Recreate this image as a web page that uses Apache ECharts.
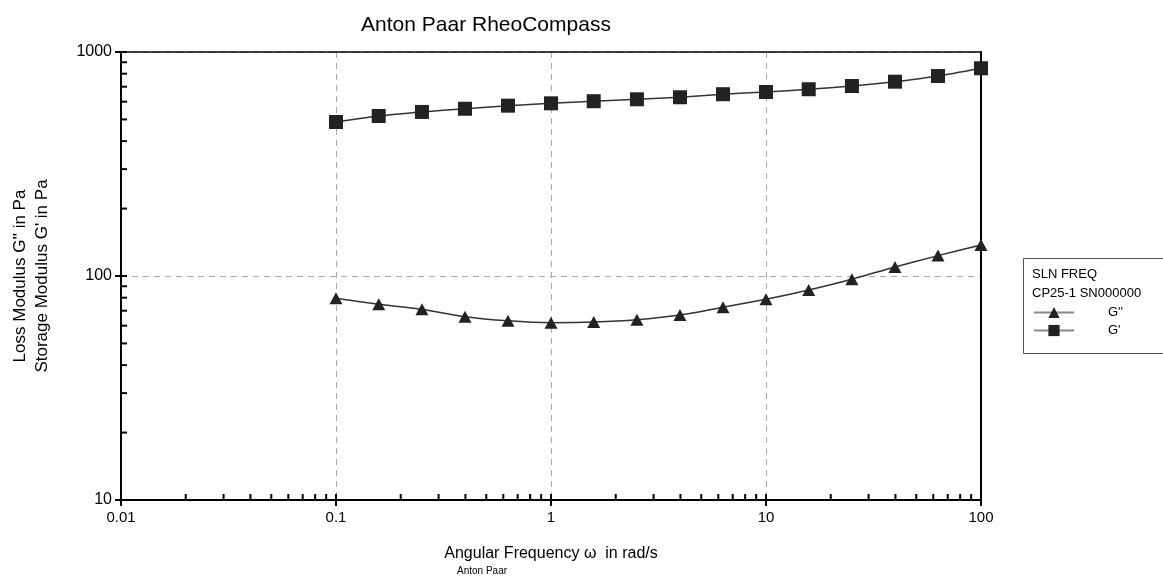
<!DOCTYPE html>
<html>
<head>
<meta charset="utf-8">
<script src="https://cdn.jsdelivr.net/npm/echarts@6/dist/echarts.min.js"></script>
<style>html,body{margin:0;padding:0;background:#fff}#c{width:1163px;height:578px}</style>
</head>
<body>
<div id="c"></div>
<script>
const freq = [0.1, 0.158, 0.251, 0.398, 0.631, 1, 1.58, 2.51, 3.98, 6.31, 10, 15.8, 25.1, 39.8, 63.1, 100];
const gPrime = [487, 518, 540, 558, 576, 590, 603, 615, 628, 648, 663, 682, 705, 737, 781, 846];
const gDouble = [79.5, 74.8, 71.0, 65.8, 63.1, 61.9, 62.3, 63.8, 67.0, 72.5, 78.7, 86.6, 96.7, 109.7, 123.3, 137.5];
const xTickLabels = ['0.01', '0.1', '1', '10', '100'];
const yTickLabels = ['10', '100', '1000'];
const xMinorTicks = [];
[0.01, 0.1, 1, 10].forEach(d => { for (let m = 1; m <= 10; m++) xMinorTicks.push(+(d * m).toPrecision(3)); });
const yMinorTicks = [];
[10, 100].forEach(d => { for (let m = 1; m <= 10; m++) yMinorTicks.push(+(d * m).toPrecision(3)); });

const FONT = '"Liberation Sans", Arial, sans-serif';
const chart = echarts.init(document.getElementById('c'));

function tickSeries(data, dir) {
  return {
    type: 'custom', silent: true, clip: false, z: 5,
    xAxisIndex: 0, yAxisIndex: 0,
    data: data,
    renderItem: function (params, api) {
      const p = api.coord([api.value(0), api.value(1)]);
      const shape = dir === 'x'
        ? { x1: p[0], y1: p[1], x2: p[0], y2: p[1] - 6 }
        : { x1: p[0], y1: p[1], x2: p[0] + 6, y2: p[1] };
      return { type: 'line', shape: shape, style: { stroke: '#000', lineWidth: 2 } };
    }
  };
}

const frameAxis = (pos, w) => ({
  type: 'log', logBase: 10, position: pos,
  axisLine: { show: true, lineStyle: { color: '#000', width: w } },
  axisTick: { show: false }, axisLabel: { show: false }, splitLine: { show: false }
});

chart.setOption({
  animation: false,
  backgroundColor: '#fff',
  title: {
    text: 'Anton Paar RheoCompass', left: 481, top: 10, textAlign: 'center',
    textStyle: { fontFamily: FONT, fontSize: 21, fontWeight: 'normal', color: '#000' }
  },
  grid: { left: 121, right: 182, top: 52, bottom: 78, outerBoundsMode: 'none', containLabel: false },
  legend: {
    orient: 'vertical', left: 1033, top: 306, padding: 0, itemWidth: 40, itemHeight: 14, itemGap: 5,
    data: ["G''", "G'"],
    lineStyle: { color: '#888', width: 2 },
    textStyle: { fontFamily: FONT, fontSize: 13, color: '#000', padding: [0, 0, 0, 29] }
  },
  xAxis: [{
    type: 'log', logBase: 10, min: 0.01, max: 100,
    name: 'Angular Frequency \u03c9  in rad/s', nameLocation: 'middle', nameGap: 46,
    nameTextStyle: { fontFamily: FONT, fontSize: 16, color: '#000' },
    axisLine: { lineStyle: { color: '#000', width: 2 } },
    axisTick: { show: true, inside: false, length: 6, lineStyle: { color: '#000', width: 2 } },
    axisLabel: { fontFamily: FONT, fontSize: 15, color: '#000', margin: 10,
      formatter: (v) => { const i = Math.round(Math.log10(v)) + 2; return xTickLabels[i] ?? ''; } },
    splitLine: { show: true, lineStyle: { color: '#aaa', type: [6, 5], width: 1 } }
  }, Object.assign(frameAxis('top', 1.5), { min: 0.01, max: 100 })],
  yAxis: [{
    type: 'log', logBase: 10, min: 10, max: 1000,
    name: "Loss Modulus G'' in Pa\nStorage Modulus G' in Pa", nameLocation: 'middle', nameGap: 68,
    nameRotate: 90,
    nameTextStyle: { fontFamily: FONT, fontSize: 17, color: '#000', lineHeight: 22 },
    axisLine: { lineStyle: { color: '#000', width: 2 } },
    axisTick: { show: true, inside: false, length: 6, lineStyle: { color: '#000', width: 2 } },
    axisLabel: { fontFamily: FONT, fontSize: 16, color: '#000', margin: 9,
      formatter: (v) => { const i = Math.round(Math.log10(v)) - 1; return yTickLabels[i] ?? ''; } },
    splitLine: { show: true, lineStyle: { color: '#aaa', type: [6, 5], width: 1 } }
  }, Object.assign(frameAxis('right', 2), { min: 10, max: 1000 })],
  graphic: [
    { type: 'rect', left: 1021, top: 256, shape: { width: 160, height: 95 },
      style: { fill: 'none', stroke: '#555', lineWidth: 1 }, z: 1 },
    { type: 'text', left: 1032, top: 268, style: { text: 'SLN FREQ', font: '13px ' + FONT, fill: '#000' } },
    { type: 'text', left: 1032, top: 287, style: { text: 'CP25-1 SN000000', font: '13px ' + FONT, fill: '#000' } },
    { type: 'text', left: 457, top: 566, style: { text: 'Anton Paar', font: '10px ' + FONT, fill: '#000' } }
  ],
  series: [
    { name: "G''", type: 'line', data: freq.map((f, i) => [f, gDouble[i]]),
      symbol: 'triangle', symbolSize: [13, 12], smooth: 0.2,
      itemStyle: { color: '#222' }, lineStyle: { color: '#333', width: 1.5 }, z: 3 },
    { name: "G'", type: 'line', data: freq.map((f, i) => [f, gPrime[i]]),
      symbol: 'rect', symbolSize: 14, smooth: 0.2,
      itemStyle: { color: '#222' }, lineStyle: { color: '#333', width: 1.5 }, z: 3 },
    tickSeries(xMinorTicks.map(v => [v, 10]), 'x'),
    tickSeries(yMinorTicks.map(v => [0.01, v]), 'y')
  ]
});
</script>
</body>
</html>
